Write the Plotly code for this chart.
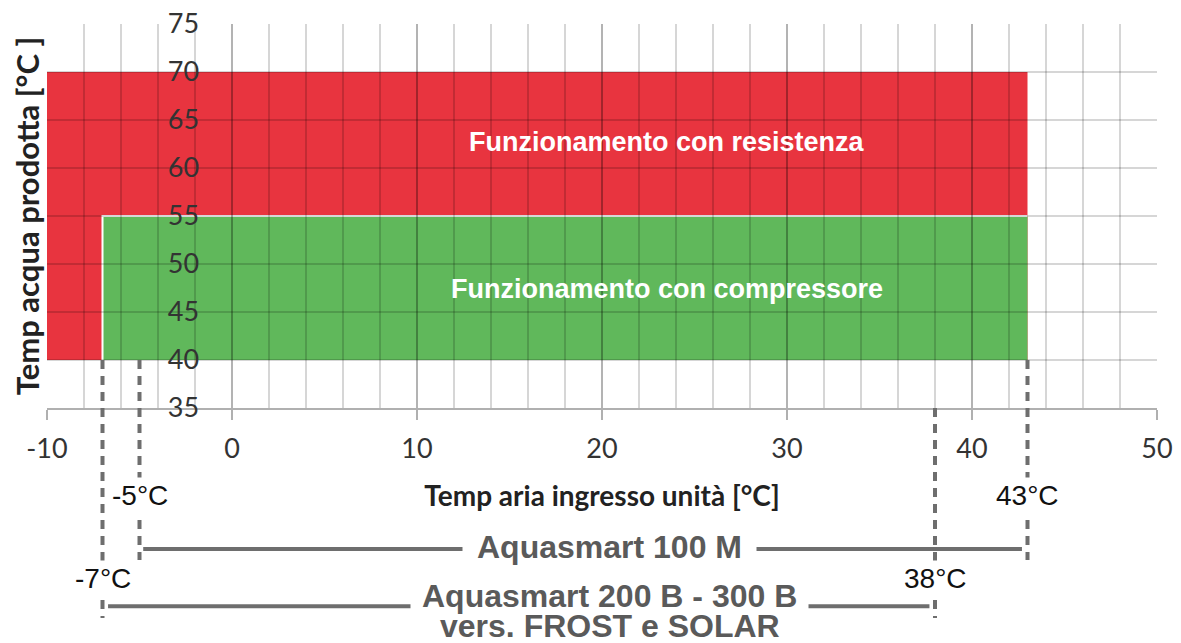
import plotly.graph_objects as go

# ---- data ----
x_range = [-10, 50]
y_range = [35, 75]
x_ticks = [-10, 0, 10, 20, 30, 40, 50]
x_ticktext = ["-10", "0", "10", "20", "30", "40", "50"]
y_ticks = [35, 40, 45, 50, 55, 60, 65, 70, 75]

# operating zones: [x_start, x_end, y_start, y_end]
zone_resistenza = [-10, 43, 40, 70]
zone_compressore = [-7, 43, 40, 55]
zone_labels = ["Funzionamento con resistenza", "Funzionamento con compressore"]

# air-temperature limits per model
limit_100m = [-5, 43]
limit_200b = [-7, 38]
limit_labels_100m = ["-5°C", "43°C"]
limit_labels_200b = ["-7°C", "38°C"]
model_100m = "Aquasmart 100 M"
model_200b = ["Aquasmart 200 B - 300 B", "vers. FROST e SOLAR"]

RED = "#E8343F"
GREEN = "#60B85B"
GRID = "rgba(0,0,0,0.16)"
DARK = "#6e6e6e"
TXT = "#5a5a5a"

def ypaper(v):
    return (v - y_range[0]) / (y_range[1] - y_range[0])

fig = go.Figure()
# invisible trace to establish the axes
fig.add_trace(go.Scatter(x=x_range, y=y_range, mode="markers",
                         marker=dict(opacity=0), hoverinfo="skip", showlegend=False))

shapes = []
# zones
shapes.append(dict(type="rect", xref="x", yref="y", layer="below",
                   x0=zone_resistenza[0], x1=zone_resistenza[1],
                   y0=zone_resistenza[2], y1=zone_resistenza[3],
                   fillcolor=RED, line=dict(width=0)))
shapes.append(dict(type="rect", xref="x", yref="y", layer="below",
                   x0=zone_compressore[0], x1=zone_compressore[1],
                   y0=zone_compressore[2], y1=zone_compressore[3],
                   fillcolor=GREEN, line=dict(width=0)))
shapes.append(dict(type="path", xref="x", yref="y", layer="below",
                   path=f"M {zone_compressore[0]},{zone_compressore[2]} L {zone_compressore[0]},{zone_compressore[3]} L {zone_compressore[1]},{zone_compressore[3]}",
                   line=dict(color="white", width=2)))

dash = "9px,7px"
# dashed limit lines
bottom_hi = -0.396
bottom_lo = -0.547
shapes.append(dict(type="line", xref="x", yref="paper", x0=limit_100m[0], x1=limit_100m[0],
                   y0=ypaper(zone_compressore[2]), y1=bottom_hi, line=dict(color=DARK, width=4, dash=dash)))
shapes.append(dict(type="line", xref="x", yref="paper", x0=limit_100m[1], x1=limit_100m[1],
                   y0=ypaper(zone_compressore[2]), y1=bottom_hi, line=dict(color=DARK, width=4, dash=dash)))
shapes.append(dict(type="line", xref="x", yref="paper", x0=limit_200b[0], x1=limit_200b[0],
                   y0=ypaper(zone_compressore[2]), y1=bottom_lo, line=dict(color=DARK, width=4, dash=dash)))
shapes.append(dict(type="line", xref="x", yref="paper", x0=limit_200b[1], x1=limit_200b[1],
                   y0=0, y1=bottom_lo, line=dict(color=DARK, width=4, dash=dash)))
# range bars
line1_y = -0.367
line2_y = -0.516
shapes.append(dict(type="line", xref="x", yref="paper", x0=limit_100m[0] + 0.2, x1=limit_100m[1] - 0.3,
                   y0=line1_y, y1=line1_y, line=dict(color=DARK, width=4)))
shapes.append(dict(type="line", xref="x", yref="paper", x0=limit_200b[0] + 0.3, x1=limit_200b[1] - 0.3,
                   y0=line2_y, y1=line2_y, line=dict(color=DARK, width=4)))

annotations = []
zone_font = dict(family="Liberation Sans, Arial, sans-serif", size=27, color="white")
annotations.append(dict(x=23.5, y=62.7, xref="x", yref="y", text=f"<b>{zone_labels[0]}</b>",
                        showarrow=False, font=zone_font, xanchor="center", yanchor="middle"))
annotations.append(dict(x=23.5, y=47.4, xref="x", yref="y", text=f"<b>{zone_labels[1]}</b>",
                        showarrow=False, font=zone_font, xanchor="center", yanchor="middle"))

lim_font = dict(family="Liberation Sans, Arial, sans-serif", size=28, color="#111111")
for xv, lab in zip(limit_100m, limit_labels_100m):
    annotations.append(dict(x=xv, y=-0.229, xref="x", yref="paper", text=lab, showarrow=False,
                            font=lim_font, bgcolor="white", borderpad=2,
                            xanchor="center", yanchor="middle"))
for xv, lab in zip(limit_200b, limit_labels_200b):
    annotations.append(dict(x=xv, y=-0.445, xref="x", yref="paper", text=lab, showarrow=False,
                            font=lim_font, bgcolor="white", borderpad=2,
                            xanchor="center", yanchor="middle"))

model_font = dict(family="Liberation Sans, Arial, sans-serif", size=32, color=TXT)
annotations.append(dict(x=0.507, y=-0.362, xref="paper", yref="paper", text=f"<b>{model_100m}</b>",
                        showarrow=False, font=model_font, bgcolor="white", borderpad=14,
                        xanchor="center", yanchor="middle"))
annotations.append(dict(x=0.507, y=-0.490, xref="paper", yref="paper", text=f"<b>{model_200b[0]}</b>",
                        showarrow=False, font=model_font, bgcolor="white", borderpad=11,
                        xanchor="center", yanchor="middle"))
annotations.append(dict(x=0.507, y=-0.569, xref="paper", yref="paper", text=f"<b>{model_200b[1]}</b>",
                        showarrow=False, font=model_font, xanchor="center", yanchor="middle"))

fig.update_layout(
    width=1173, height=635,
    margin=dict(l=39, r=24, t=16, b=235),
    paper_bgcolor="white", plot_bgcolor="white",
    showlegend=False,
    shapes=shapes, annotations=annotations,
    xaxis=dict(range=x_range, tickvals=x_ticks, ticktext=x_ticktext, showgrid=True,
               gridcolor=GRID, gridwidth=2, automargin=False,
               minor=dict(dtick=2, showgrid=True, gridcolor=GRID, gridwidth=2, ticks=""),
               zeroline=False, showline=True, linecolor="#b0b0b0", linewidth=2,
               ticks="outside", ticklen=10, tickwidth=1.5, tickcolor="#b0b0b0",
               ticklabelstandoff=6, ticklabeloverflow="allow",
               tickfont=dict(family="Lato, Carlito, sans-serif", size=27, color="#333333"),
               title=dict(text="<b>Temp aria ingresso unità [°C]</b>", standoff=23,
                          font=dict(family="Lato, Carlito, sans-serif", size=28, color="#222222"))),
    yaxis=dict(range=y_range, tickvals=y_ticks, showgrid=True, gridcolor=GRID, gridwidth=2,
               automargin=False, ticklabeloverflow="allow",
               zeroline=False, showline=False, ticks="", anchor="free", position=0.137,
               tickfont=dict(family="Lato, Carlito, sans-serif", size=27, color="#333333"),
               title=dict(text="<b>Temp acqua prodotta [°C ]</b>", standoff=139,
                          font=dict(family="Lato, Carlito, sans-serif", size=31, color="#222222"))),
)

fig.write_html("out.html")
